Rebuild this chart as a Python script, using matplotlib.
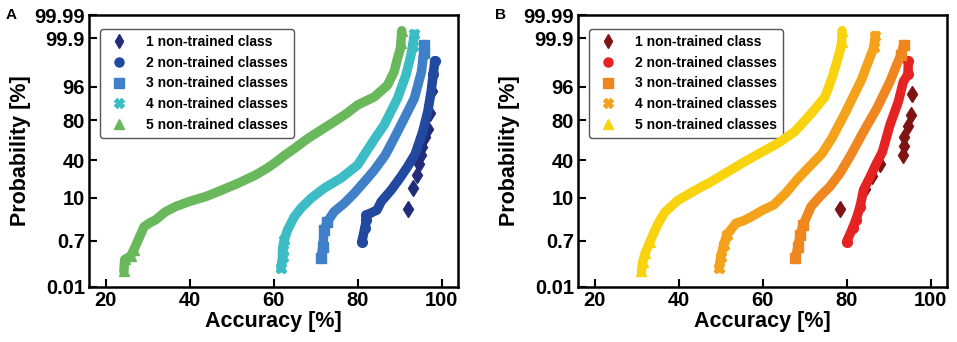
import numpy as np
import matplotlib
matplotlib.use("Agg")
import matplotlib.pyplot as plt
from matplotlib.lines import Line2D
from statistics import NormalDist

plt.rcParams["font.family"] = ["Liberation Sans", "DejaVu Sans"]
plt.rcParams["font.weight"] = "bold"

# ── Data (accuracy %, cumulative probability %) ──────────────────────────────
labels = ["1 non-trained class", "2 non-trained classes", "3 non-trained classes",
          "4 non-trained classes", "5 non-trained classes"]

# panel A
a1_acc = [92.1, 93.1, 94.2, 94.6, 95.1, 95.4, 96.0, 96.7, 97.3, 97.8]
a1_prob = [5.6, 15.4, 25.6, 36, 45.7, 54.7, 65, 73, 85, 95]
a2_acc = [81.0, 81.7, 82.1, 82.1, 84.6, 85.6, 88.0, 90.3, 91.9, 93.7, 95.5, 96.7, 97.5, 98.0, 98.4]
a2_prob = [0.66, 1.73, 2.96, 4.0, 5.3, 8.3, 14.3, 24.1, 33.4, 46.7, 70.1, 85.9, 94.8, 98.2, 99.33]
a3_acc = [71.3, 71.7, 72.0, 72.8, 74.4, 76.8, 79.2, 81.6, 84.0, 86.6, 88.5, 90.3, 93.5, 95.2, 95.7, 95.9]
a3_prob = [0.17, 0.43, 1.54, 2.66, 4.85, 7.6, 12.4, 20, 30.2, 45.7, 62, 76.1, 92.5, 98.5, 99.62, 99.82]
a4_acc = [61.7, 62.1, 62.1, 62.5, 63.3, 64.9, 66.5, 68.9, 72.0, 76.0, 80.0, 82.0, 84.2, 86.3,
          89.5, 91.5, 92.7, 93.1, 93.5]
a4_prob = [0.07, 0.18, 0.34, 0.75, 1.54, 3.6, 5.9, 9.8, 15.4, 22.8, 35.1, 48.9, 64, 76.1,
           92.5, 98.1, 99.57, 99.8, 99.93]
a5_acc = [24.3, 24.5, 25.9, 26.7, 27.9, 29.1, 30.3, 31.9, 34.2, 36.6, 39.8, 43.8, 47.7, 51.7,
          55.7, 58.4, 60.5, 62.5, 65.0, 68.0, 71.0, 74.4, 77.5, 80.0, 84.0, 87.1, 88.7, 89.5,
          90.2, 90.3, 90.5]
a5_prob = [0.05, 0.15, 0.2, 0.35, 0.85, 1.9, 2.4, 3.0, 4.8, 6.4, 8.3, 10.6, 14.3, 19.1,
           25.6, 31.8, 38, 45, 53, 63, 71, 78.8, 85, 89.6, 93.1, 96.4, 98.5, 99.44,
           99.75, 99.85, 99.95]

# panel B
b1_acc = [78.5, 84.3, 86.0, 88.0, 93.4, 93.6, 93.6, 94.5, 95.3, 95.5]
b1_prob = [5.5, 15, 25, 36, 45.5, 55, 65, 75, 84, 94]
b2_acc = [80.0, 81.4, 82.2, 83.2, 84.0, 85.6, 87.1, 88.5, 90.3, 92.3, 93.5, 94.6, 94.7]
b2_prob = [0.66, 1.73, 2.96, 6.4, 14.3, 24.1, 36.8, 48.9, 76.1, 91.1, 97.1, 98.2, 99.3]
b3_acc = [67.8, 68.4, 68.9, 69.6, 71.5, 73.6, 76.0, 78.4, 81.0, 84.0, 87.2, 90.3, 91.9, 92.9, 93.6]
b3_prob = [0.17, 0.44, 1.08, 2.15, 6.4, 10.6, 16.5, 27.1, 45.7, 70.1, 87.9, 97.1, 99.07, 99.57, 99.82]
b4_acc = [49.6, 50.0, 50.7, 51.4, 52.4, 53.6, 55.6, 58.0, 60.0, 62.6, 65.5, 68.1, 70.8, 74.1,
          76.5, 79.6, 83.5, 85.6, 86.5, 86.8]
b4_prob = [0.07, 0.19, 0.51, 1.08, 1.54, 2.4, 2.87, 4.0, 5.3, 7.0, 12.5, 21.4, 32.1, 47,
           63.9, 84.9, 97.4, 99.5, 99.78, 99.92]
b5_acc = [31.1, 31.4, 32.0, 33.1, 34.9, 36.6, 39.6, 43.6, 47.6, 51.6, 55.6, 59.6, 63.6, 67.6,
          71.6, 74.8, 76.5, 77.7, 78.5, 78.8, 78.9]
b5_prob = [0.05, 0.12, 0.26, 0.64, 2.15, 4.6, 8.6, 13.7, 19.8, 28.3, 38.2, 48.4, 58.3, 70.1,
           84.9, 93.0, 97.7, 99.3, 99.74, 99.86, 99.95]

prob_ticks = [0.01, 0.7, 10, 40, 80, 96, 99.9, 99.99]
prob_ticklabels = ["0.01", "0.7", "10", "40", "80", "96", "99.9", "99.99"]
acc_ticks = [20, 40, 60, 80, 100]

colors_a = ["#232c78", "#2249a0", "#3f80c8", "#3cbcc4", "#69b95c"]
colors_b = ["#7e1414", "#e52323", "#ef8620", "#f5a21b", "#f9d30d"]
markers = ["d", "o", "s", "X", "^"]
msizes = [8, 7, 7, 7.5, 7.5]

# ── normal-probability (probit) scale ─────────────────────────────────────────
_nd = NormalDist()
_ppf = np.vectorize(_nd.inv_cdf, otypes=[float])
_cdf = np.vectorize(_nd.cdf, otypes=[float])


def fwd(p):
    p = np.clip(np.asarray(p, dtype=float) / 100.0, 1e-9, 1 - 1e-9)
    return _ppf(p)


def inv(z):
    return _cdf(np.asarray(z, dtype=float)) * 100.0


def draw_panel(ax, series, colors, letter):
    for i, (acc, prob) in enumerate(series):
        n = len(acc)
        if i == 0:
            # single class: only a handful of isolated points
            ax.plot(acc, prob, ls="none", marker=markers[i], ms=msizes[i],
                    color=colors[i], zorder=2)
        else:
            # dense band of points, individual markers visible only at the tails
            ends = [0, 1, 2, 3, n - 2, n - 1]
            ax.plot(acc, prob, color=colors[i], lw=6.8, solid_capstyle="round",
                    solid_joinstyle="round", marker=markers[i], ms=msizes[i],
                    markevery=ends, zorder=2 + i)
    ax.set_yscale("function", functions=(fwd, inv))
    ax.set_ylim(0.01, 99.99)
    ax.set_xlim(16, 104)
    ax.set_yticks(prob_ticks, prob_ticklabels)
    ax.set_xticks(acc_ticks)
    ax.minorticks_off()
    ax.tick_params(direction="in", length=6, width=1.5, labelsize=14.5, pad=3)
    for sp in ax.spines.values():
        sp.set_linewidth(1.8)
    ax.set_xlabel("Accuracy [%]", fontsize=15.5, fontweight="bold", labelpad=1)
    ax.set_ylabel("Probability [%]", fontsize=15.5, fontweight="bold", labelpad=2)
    handles = [Line2D([], [], ls="none", marker=markers[i], ms=msizes[i] - 0.5,
                      color=colors[i]) for i in range(5)]
    leg = ax.legend(handles, labels, loc="upper left", bbox_to_anchor=(0.012, 0.975),
                    fontsize=10, frameon=True, fancybox=True, framealpha=1,
                    edgecolor="#555555", handletextpad=1.0, labelspacing=0.48,
                    borderpad=0.45, handlelength=1.8)
    leg.get_frame().set_linewidth(1.0)
    for t in leg.get_texts():
        t.set_fontweight("bold")
    ax.text(-0.225, 1.0, letter, transform=ax.transAxes, fontsize=11, fontweight="bold",
            va="center", ha="left")


fig = plt.figure(figsize=(9.57, 3.42), dpi=100)
ax_a = fig.add_axes([0.093, 0.161, 0.386, 0.795])
ax_b = fig.add_axes([0.604, 0.161, 0.386, 0.795])

draw_panel(ax_a, [(a1_acc, a1_prob), (a2_acc, a2_prob), (a3_acc, a3_prob),
                  (a4_acc, a4_prob), (a5_acc, a5_prob)], colors_a, "A")
draw_panel(ax_b, [(b1_acc, b1_prob), (b2_acc, b2_prob), (b3_acc, b3_prob),
                  (b4_acc, b4_prob), (b5_acc, b5_prob)], colors_b, "B")

fig.savefig("out.png", dpi=100)
